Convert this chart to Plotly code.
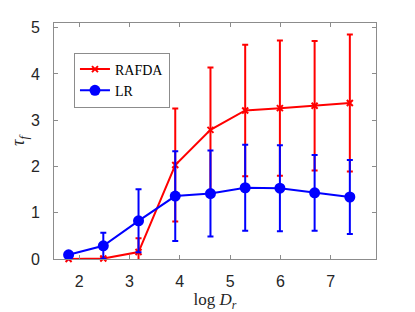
import plotly.graph_objects as go

log_dr = [1.79, 2.48, 3.18, 3.91, 4.61, 5.30, 5.99, 6.68, 7.38]
rafda_y = [0.0, 0.01, 0.15, 2.03, 2.79, 3.21, 3.26, 3.31, 3.37]
rafda_err = [0.02, 0.02, 0.30, 1.22, 1.35, 1.42, 1.46, 1.40, 1.48]
lr_y = [0.09, 0.285, 0.825, 1.36, 1.415, 1.54, 1.53, 1.43, 1.34]
lr_err = [0.03, 0.28, 0.68, 0.97, 0.93, 0.93, 0.93, 0.82, 0.80]
x_ticks = [2, 3, 4, 5, 6, 7]
y_ticks = [0, 1, 2, 3, 4, 5]

RED = "#FF0000"
BLUE = "#0000FF"

fig = go.Figure()
fig.add_trace(go.Scatter(
    x=log_dr, y=rafda_y, name="RAFDA", mode="lines+markers",
    line=dict(color=RED, width=2),
    marker=dict(symbol="x-thin", size=6, color=RED, line=dict(color=RED, width=2)),
    error_y=dict(type="data", array=rafda_err, visible=True, color=RED, thickness=2, width=3),
    cliponaxis=False,
))
fig.add_trace(go.Scatter(
    x=log_dr, y=lr_y, name="LR", mode="lines+markers",
    line=dict(color=BLUE, width=2),
    marker=dict(symbol="circle", size=11, color=BLUE),
    error_y=dict(type="data", array=lr_err, visible=True, color=BLUE, thickness=2, width=3),
    cliponaxis=False,
))

axis_common = dict(
    showline=True, linecolor="#8c8c8c", linewidth=1, mirror="ticks",
    ticks="inside", ticklen=4, tickcolor="#8c8c8c", tickwidth=1,
    showgrid=False, zeroline=False, automargin=False,
    tickfont=dict(family="Liberation Sans, Arial, sans-serif", size=16, color="#262626"),
)

fig.update_xaxes(
    range=[1.5, 7.9], tickvals=x_ticks, ticklabelstandoff=8,
    title=dict(text="log <i>D</i><sub><i>r</i></sub>",
               font=dict(family="Liberation Serif, Times New Roman, serif", size=17, color="#262626"),
               standoff=6),
    **axis_common,
)
fig.update_yaxes(
    range=[0, 5.1], tickvals=y_ticks, ticklabelstandoff=10,
    title=dict(text="<i>τ</i><sub><i>f</i></sub>",
               font=dict(family="Liberation Serif, Times New Roman, serif", size=18, color="#262626"),
               standoff=1),
    **axis_common,
)

fig.update_layout(
    width=415, height=312,
    margin=dict(l=54, r=39, t=23, b=53, autoexpand=False),
    paper_bgcolor="white", plot_bgcolor="white",
    showlegend=True,
    legend=dict(
        x=0.062, y=0.875, xanchor="left", yanchor="top",
        bgcolor="white", bordercolor="#8c8c8c", borderwidth=1,
        font=dict(family="Liberation Serif, Times New Roman, serif", size=14, color="black"),
        itemwidth=30, tracegroupgap=0,
    ),
)

fig.write_html("out.html", post_script="document.body.style.margin='0';",
               config={"displayModeBar": False})
